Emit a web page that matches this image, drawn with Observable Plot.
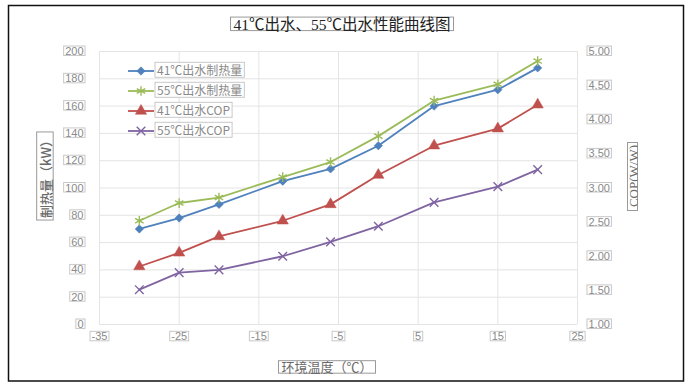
<!DOCTYPE html>
<html>
<head>
<meta charset="utf-8">
<script src="https://cdn.jsdelivr.net/npm/d3@7"></script>
<script src="https://cdn.jsdelivr.net/npm/@observablehq/plot@0.6"></script>
<style>
  html, body { margin: 0; padding: 0; background: #fff; }
  #chart svg { display: block; }
</style>
</head>
<body>
<div id="chart"></div>
<script>
// ---- data ----
const temps = [-30, -25, -20, -12, -6, 0, 7, 15, 20];
const heat41 = [70, 78, 88, 105, 114, 131, 160, 172, 188];
const heat55 = [76, 89, 93, 108, 119, 138, 164, 176, 193];
const cop41 = [1.85, 2.05, 2.29, 2.52, 2.76, 3.19, 3.62, 3.87, 4.22];
const cop55 = [1.51, 1.76, 1.80, 2.00, 2.21, 2.44, 2.79, 3.02, 3.27];
const seriesNames = ["41℃出水制热量", "55℃出水制热量", "41℃出水COP", "55℃出水COP"];
const xTicks = [-35, -25, -15, -5, 5, 15, 25];
const heatTicks = [0, 20, 40, 60, 80, 100, 120, 140, 160, 180, 200];
const copTicks = [1.0, 1.5, 2.0, 2.5, 3.0, 3.5, 4.0, 4.5, 5.0];
const title = "41℃出水、55℃出水性能曲线图";
const xLabel = "环境温度（℃）";
const yLabelLeft = "制热量（kW）";
const yLabelRight = "COP(W/W)";

// styles
const colors = ["#4F81BD", "#9BBB59", "#C0504D", "#8064A2"];
const symbols = ["diamond2", "asterisk", "triangle", "times"];
const filled = [true, false, true, false];
const symR = [3.8, 4.6, 4.2, 4];

// COP axis (1..5) mapped onto heat axis (0..200)
const copToHeat = c => (c - 1) * 50;
const heatToCop = h => h / 50 + 1;

const seriesValues = [heat41, heat55, cop41.map(copToHeat), cop55.map(copToHeat)];

const marks = [
  Plot.gridX(xTicks, {stroke: "#e4e4e4", strokeOpacity: 1}),
  Plot.gridY(heatTicks, {stroke: "#e4e4e4", strokeOpacity: 1}),
  Plot.axisX(xTicks, {tickSize: 0, tickPadding: 8, fill: "#8a8a8a", fontSize: 11, label: null,
    tickFormat: d => String(d)}),
  Plot.axisY(heatTicks, {anchor: "left", tickSize: 0, tickPadding: 16, fill: "#8a8a8a", fontSize: 11, label: null,
    tickFormat: d => String(d)}),
  Plot.axisY(copTicks.map(copToHeat), {anchor: "right", tickSize: 0, tickPadding: 11, fill: "#8a8a8a", fontSize: 11, label: null,
    tickFormat: d => heatToCop(d).toFixed(2)})
];

seriesValues.forEach((vals, i) => {
  const rows = temps.map((t, j) => ({x: t, y: vals[j]}));
  marks.push(Plot.line(rows, {x: "x", y: "y", stroke: colors[i], strokeWidth: 1.8}));
  marks.push(Plot.dot(rows, {x: "x", y: "y", symbol: symbols[i], r: symR[i],
    fill: filled[i] ? colors[i] : "none", stroke: colors[i], strokeWidth: filled[i] ? 0.5 : 1.4}));
});

const chart = Plot.plot({
  width: 691,
  height: 387,
  marginLeft: 99,
  marginRight: 114,
  marginTop: 51,
  marginBottom: 63,
  style: {fontFamily: "'Liberation Sans', Arial, sans-serif", background: "#fff"},
  x: {domain: [-35, 25]},
  y: {domain: [0, 200]},
  marks
});

document.getElementById("chart").appendChild(chart);

const svg = d3.select(chart);

function boxText(el, padX = 1, padTop = 1, padBottom = 1, stroke = "#c8c8c8") {
  const bb = el.getBBox();
  const r = document.createElementNS("http://www.w3.org/2000/svg", "rect");
  r.setAttribute("x", bb.x - padX);
  r.setAttribute("y", bb.y + padTop);
  r.setAttribute("width", bb.width + 2 * padX);
  r.setAttribute("height", bb.height - padTop - padBottom);
  r.setAttribute("fill", "#fff");
  r.setAttribute("stroke", stroke);
  r.setAttribute("stroke-width", "1");
  const tr = el.getAttribute("transform");
  if (tr) r.setAttribute("transform", tr);
  el.parentNode.insertBefore(r, el);
}

// boxes around tick labels
svg.selectAll('g[aria-label$="tick label"] text').each(function() { boxText(this, 1.5, 1, 1.5); });

// outer chart border
svg.insert("rect", ":first-child")
  .attr("x", 8.5).attr("y", 5.5).attr("width", 675).attr("height", 375.5)
  .attr("fill", "#fff").attr("stroke", "#111").attr("stroke-width", 1.5);

// title
const t = svg.append("text")
  .attr("x", 342).attr("y", 24).attr("dy", "0.36em")
  .attr("text-anchor", "middle")
  .attr("font-family", "'Liberation Serif', 'Times New Roman', 'Noto Sans CJK SC', serif")
  .attr("font-size", 15.5).attr("fill", "#222")
  .text(title);
boxText(t.node(), 3, 1.5, 2, "#9a9a9a");

// x label
const xl = svg.append("text")
  .attr("x", 327).attr("y", 367).attr("dy", "0.36em")
  .attr("text-anchor", "middle")
  .attr("font-family", "'Liberation Serif', 'Noto Sans CJK SC', serif")
  .attr("font-size", 13).attr("fill", "#6a6a6a")
  .text(xLabel);
boxText(xl.node(), 3, 1, 1.5, "#9a9a9a");

// left y label
const yl = svg.append("text")
  .attr("transform", "translate(46,176) rotate(-90)")
  .attr("dy", "0.36em")
  .attr("text-anchor", "middle")
  .attr("font-family", "'Noto Sans CJK SC', sans-serif")
  .attr("font-size", 13).attr("font-weight", 500).attr("fill", "#6a6a6a")
  .text(yLabelLeft);
boxText(yl.node(), 2, 1, 1.5, "#9a9a9a");

// right y label (narrow clipped box)
svg.append("defs").append("clipPath").attr("id", "rclip")
  .append("rect").attr("x", 627.5).attr("y", 142).attr("width", 10).attr("height", 69);
svg.append("rect").attr("x", 627.5).attr("y", 142.5).attr("width", 10).attr("height", 68)
  .attr("fill", "#fff").attr("stroke", "#9a9a9a");
svg.append("g").attr("clip-path", "url(#rclip)")
  .append("text")
  .attr("transform", "translate(633.5,176) rotate(-90)")
  .attr("dy", "0.36em")
  .attr("text-anchor", "middle")
  .attr("font-family", "'Liberation Serif', serif")
  .attr("font-size", 13).attr("fill", "#6a6a6a")
  .text(yLabelRight);

// legend
const lg = svg.append("g").attr("text-anchor", "start");
const d3sym = {diamond2: d3.symbolDiamond2, asterisk: d3.symbolAsterisk, triangle: d3.symbolTriangle, times: d3.symbolTimes};
seriesNames.forEach((name, i) => {
  const y = 71 + i * 20;
  lg.append("line").attr("x1", 128).attr("x2", 154).attr("y1", y).attr("y2", y)
    .attr("stroke", colors[i]).attr("stroke-width", 1.8);
  const path = d3.symbol(d3sym[symbols[i]], Math.PI * symR[i] * symR[i])();
  lg.append("path").attr("d", path).attr("transform", `translate(141,${y})`)
    .attr("fill", filled[i] ? colors[i] : "none").attr("stroke", colors[i])
    .attr("stroke-width", filled[i] ? 0.5 : 1.4);
  const tx = lg.append("text").attr("x", 157).attr("y", y).attr("dy", "0.36em")
    .attr("text-anchor", "start")
    .attr("font-family", "'Noto Sans CJK SC', 'Liberation Sans', sans-serif")
    .attr("font-size", 12).attr("fill", "#8a8a8a").text(name);
  boxText(tx.node(), 2, 1, 1, "#c8c8c8");
});
</script>
</body>
</html>
